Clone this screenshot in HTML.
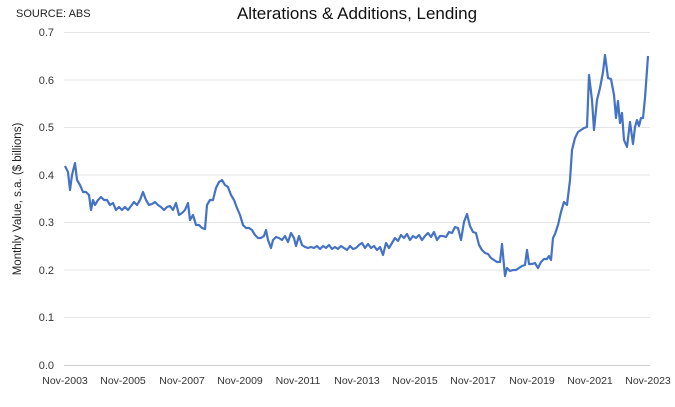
<!DOCTYPE html>
<html><head><style>
body{margin:0;background:#fff;width:675px;height:402px;overflow:hidden;font-family:"Liberation Sans",Arial,sans-serif}
</style></head><body>
<svg width="675" height="402" xmlns="http://www.w3.org/2000/svg" font-family="Liberation Sans, Arial, sans-serif">
<text x="16" y="17" font-size="11" fill="#222">SOURCE: ABS</text>
<text x="357" y="19" font-size="17" fill="#111" text-anchor="middle">Alterations &amp; Additions, Lending</text>
<g stroke="#e4e4e4" stroke-width="1">
<line x1="64" x2="650" y1="32.5" y2="32.5"/><line x1="64" x2="650" y1="80" y2="80"/><line x1="64" x2="650" y1="127.5" y2="127.5"/><line x1="64" x2="650" y1="175" y2="175"/><line x1="64" x2="650" y1="222.5" y2="222.5"/><line x1="64" x2="650" y1="270" y2="270"/><line x1="64" x2="650" y1="317.5" y2="317.5"/>
</g>
<line x1="64" x2="650" y1="365.5" y2="365.5" stroke="#d0d0d0"/>
<g font-size="11" fill="#333" text-anchor="end">
<text x="54" y="36">0.7</text><text x="54" y="84">0.6</text><text x="54" y="131">0.5</text><text x="54" y="179">0.4</text><text x="54" y="226">0.3</text><text x="54" y="274">0.2</text><text x="54" y="321">0.1</text><text x="54" y="369">0.0</text>
</g>
<g font-size="10.5" fill="#333" text-anchor="middle">
<text x="65" y="384">Nov-2003</text><text x="123" y="384">Nov-2005</text><text x="182" y="384">Nov-2007</text><text x="240" y="384">Nov-2009</text><text x="298" y="384">Nov-2011</text><text x="357" y="384">Nov-2013</text><text x="415" y="384">Nov-2015</text><text x="473" y="384">Nov-2017</text><text x="532" y="384">Nov-2019</text><text x="590" y="384">Nov-2021</text><text x="648" y="384">Nov-2023</text>
</g>
<text transform="translate(21,199) rotate(-90)" font-size="11.5" fill="#222" text-anchor="middle">Monthly Value, s.a. ($ billions)</text>
<polyline fill="none" stroke="#4472c4" stroke-width="2.2" stroke-linejoin="round" points="65,166 68,172 70,190 72,175 75,163 77,180 80,185 83,192 86,192 89,195 91,210 93,200 95,205 98,200 101,197 104,200 107,200 110,205 113,203 116,210 119,207 122,210 125,207 128,210 131,206 134,202 137,205 140,200 143,192 146,200 149,205 152,204 155,202 158,205 161,207 164,210 167,207 170,206 173,210 176,203 179,215 182,213 185,210 188,203 190,220 193,215 196,225 199,225 202,228 205,229 207,205 210,200 213,200 216,188 219,182 222,180 225,185 228,187 231,195 234,200 237,208 240,215 243,225 246,228 249,228 252,230 255,235 258,238 261,238 264,236 266,230 268,240 271,248 273,240 276,237 279,238 282,240 285,236 288,242 291,233 294,238 296,246 299,236 302,245 305,247 308,248 311,247 314,248 317,246 320,249 323,246 326,248 329,245 332,249 335,247 338,249 341,246 344,248 347,250 350,246 353,249 356,248 359,245 362,243 365,248 368,244 371,248 374,246 377,250 380,247 383,255 386,243 389,248 392,243 395,238 398,241 401,235 404,238 407,234 410,240 413,236 416,238 419,235 422,240 425,236 428,233 431,237 434,232 437,240 440,236 443,236 446,237 449,232 452,233 455,227 458,228 461,240 464,222 467,214 470,226 473,232 476,233 479,245 482,250 485,253 488,254 491,258 494,260 497,262 500,262 502,244 505,276 507,268 510,271 513,270 516,270 519,268 522,266 525,265 527,250 529,264 532,264 535,263 538,268 541,262 544,259 547,259 549,256 551,260 553,238 555,234 558,225 561,212 564,202 567,205 570,180 572,150 575,138 578,132 581,130 584,128 587,127 589,75 592,100 594,130 597,100 600,88 603,72 605,55 608,78 611,79 614,95 616,118 618,101 620,123 622,113 624,140 627,147 630,122 633,144 635,127 637,120 639,126 641,118 643,118 645,98 648,56"/>
</svg>
</body></html>
